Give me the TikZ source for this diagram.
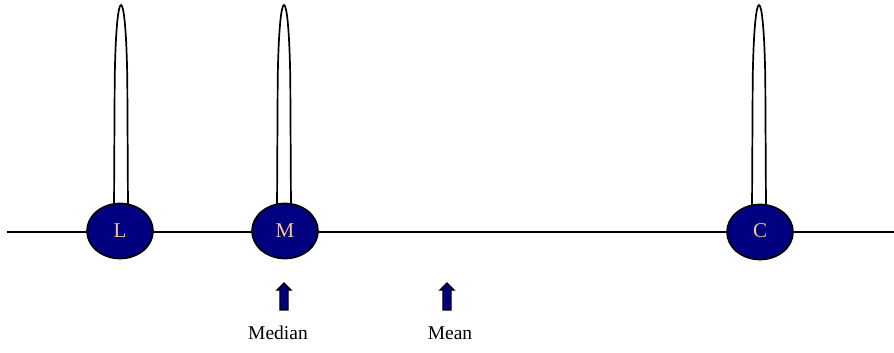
\documentclass[tikz,border=0pt]{standalone}
\usepackage{fontspec}
\setmainfont{Liberation Serif}
\usetikzlibrary{positioning,shapes.geometric,shapes.arrows}
\definecolor{blob}{HTML}{000080}
\definecolor{tag}{HTML}{F2C79B}
\begin{document}
\begin{tikzpicture}[
  x=1pt,y=-1pt,
  font=\fontsize{19.5}{22}\selectfont,
  line width=1.7pt,
  nucleus/.style={ellipse,draw=black,fill=blob,minimum width=66pt,minimum height=55pt,inner sep=0pt,text=tag,font=\fontsize{21}{22}\selectfont},
  marker/.style={single arrow,draw=black,fill=blob,line width=1.2pt,rotate=90,minimum height=27pt,inner xsep=0pt,inner ysep=3.5pt,single arrow head extend=3pt,single arrow head indent=0pt},
  lbl/.style={text=black}
]
\useasboundingbox (0,0) rectangle (894,353);
% axis ends
\coordinate (a0) at (7,232);
\coordinate (a1) at (894,232);
\draw (a0) -- (a1);
% tall loops
\foreach \n/\x in {L/121,M/284,C/759}{
  \draw (\x-7,210) -- (\x-6.3,80) .. controls (\x-4.8,-20) and (\x+4.8,-20) .. (\x+6.3,80) -- (\x+7,210);
}
% nuclei
\node[nucleus] (L) at (120,231) {\raisebox{1pt}{L}};
\node[nucleus] (M) at (285,231) {\raisebox{1pt}{M}};
\node[nucleus] (C) at (760,232) {\raisebox{2pt}{C}};
% markers
\node[marker] (up1) at (284,298.5) {};
\node[marker] (up2) at (447,298.5) {};
\node[lbl] (median) at (278,333) {Median};
\node[lbl] (mean) at (450,333) {Mean};
\end{tikzpicture}
\end{document}
